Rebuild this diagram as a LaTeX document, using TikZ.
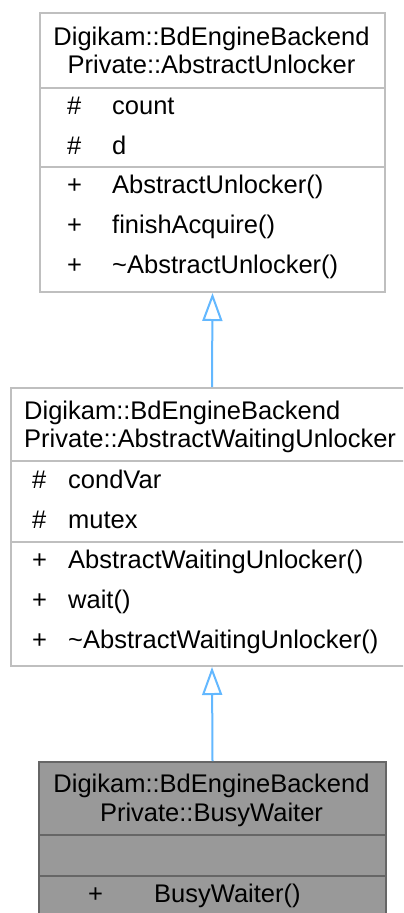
\documentclass[tikz,border=0pt]{standalone}
\usepackage{fontspec}
\setmainfont{Liberation Sans}
\usetikzlibrary{arrows.meta}
\definecolor{grey75}{HTML}{BFBFBF}
\definecolor{grey60}{HTML}{999999}
\definecolor{grey40}{HTML}{666666}
\definecolor{steel}{HTML}{63B8FF}
\newcommand\diafont{\fontsize{25.5bp}{30bp}\selectfont}
\begin{document}
\begin{tikzpicture}[x=1bp,y=-1bp,
  every node/.style={font=\diafont, text=black},
  umlbox/.style={draw=grey75, line width=2bp, fill=white, inner sep=0, anchor=north west},
  leafbox/.style={draw=grey40, line width=2bp, fill=grey60, inner sep=0, anchor=north west},
  sepline/.style={draw=grey75, line width=2bp},
  leafsep/.style={draw=grey40, line width=2bp},
  ttl/.style={anchor=base, inner sep=0},
  ttlw/.style={anchor=base west, inner sep=0},
  txt/.style={anchor=base west, inner sep=0},
  inh/.style={draw=steel, line width=2bp, -{Triangle[open, length=28bp, width=20bp, fill=white]}}
]
\clip (0,0) rectangle (403,913);
\fill[white] (0,0) rectangle (403,913);

% Box 1
\node[umlbox, minimum width=345bp, minimum height=279bp] (b1) at (39,12) {};
\draw[sepline] (b1.west |- 0,87.5) -- (b1.east |- 0,87.5);
\draw[sepline] (b1.west |- 0,167) -- (b1.east |- 0,167);
\node[ttl] (b1t1) at (211.5,45) {Digikam::BdEngineBackend};
\node[ttl] (b1t2) at (211.5,73) {Private::AbstractUnlocker};
\node[txt] (b1a1v) at (67,114) {\#};
\node[txt] (b1a1) at (112,114) {count};
\node[txt] (b1a2v) at (67,154) {\#};
\node[txt] (b1a2) at (112,154) {d};
\node[txt] (b1m1v) at (67,193) {+};
\node[txt] (b1m1) at (112,193) {AbstractUnlocker()};
\node[txt] (b1m2v) at (67,233) {+};
\node[txt] (b1m2) at (112,233) {finishAcquire()};
\node[txt] (b1m3v) at (67,273) {+};
\node[txt] (b1m3) at (112,273) {\char`\~AbstractUnlocker()};

% Box 2
\node[umlbox, minimum width=402bp, minimum height=278bp] (b2) at (10,387) {};
\draw[sepline] (b2.west |- 0,461) -- (b2.east |- 0,461);
\draw[sepline] (b2.west |- 0,542) -- (b2.east |- 0,542);
\node[ttlw] (b2t1) at (24,419.5) {Digikam::BdEngineBackend};
\node[ttlw] (b2t2) at (24,447) {Private::AbstractWaitingUnlocker};
\node[txt] (b2a1v) at (32,488) {\#};
\node[txt] (b2a1) at (68,488) {condVar};
\node[txt] (b2a2v) at (32,528) {\#};
\node[txt] (b2a2) at (68,528) {mutex};
\node[txt] (b2m1v) at (32,568) {+};
\node[txt] (b2m1) at (68,568) {AbstractWaitingUnlocker()};
\node[txt] (b2m2v) at (32,608) {+};
\node[txt] (b2m2) at (68,608) {wait()};
\node[txt] (b2m3v) at (32,648) {+};
\node[txt] (b2m3) at (68,648) {\char`\~AbstractWaitingUnlocker()};

% Box 3
\node[leafbox, minimum width=347bp, minimum height=156bp] (b3) at (38,761) {};
\draw[leafsep] (b3.west |- 0,835) -- (b3.east |- 0,835);
\draw[leafsep] (b3.west |- 0,876) -- (b3.east |- 0,876);
\node[ttl] (b3t1) at (211.5,792) {Digikam::BdEngineBackend};
\node[ttl] (b3t2) at (211.5,821.5) {Private::BusyWaiter};
\node[txt] (b3m1v) at (88,902) {+};
\node[txt] (b3m1) at (154,902) {BusyWaiter()};

% Inheritance arrows
\draw[inh] (b2.north) -- (b1.south);
\draw[inh] (b3.north) -- (b2.south);
\end{tikzpicture}
\end{document}
